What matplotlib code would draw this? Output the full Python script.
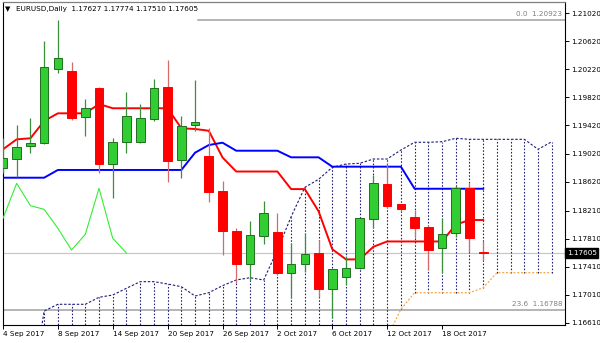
import matplotlib
matplotlib.use("Agg")
import matplotlib.pyplot as plt
import numpy as np

# ---------------- data ----------------
dates = ["4 Sep 2017", "5 Sep 2017", "6 Sep 2017", "7 Sep 2017", "8 Sep 2017",
         "11 Sep 2017", "12 Sep 2017", "13 Sep 2017", "14 Sep 2017", "15 Sep 2017",
         "18 Sep 2017", "19 Sep 2017", "20 Sep 2017", "21 Sep 2017", "22 Sep 2017",
         "25 Sep 2017", "26 Sep 2017", "27 Sep 2017", "28 Sep 2017", "29 Sep 2017",
         "2 Oct 2017", "3 Oct 2017", "4 Oct 2017", "5 Oct 2017", "6 Oct 2017",
         "9 Oct 2017", "10 Oct 2017", "11 Oct 2017", "12 Oct 2017", "13 Oct 2017",
         "16 Oct 2017", "17 Oct 2017", "18 Oct 2017", "19 Oct 2017", "20 Oct 2017",
         "23 Oct 2017"]

opens = [1.18811, 1.18943, 1.19128, 1.19175, 1.20223, 1.20195, 1.19536, 1.19949,
         1.18868, 1.19189, 1.19190, 1.19508, 1.19963, 1.18929, 1.19427, 1.18986,
         1.18488, 1.17923, 1.17445, 1.17852, 1.17909, 1.17326, 1.17445, 1.17602,
         1.17094, 1.17269, 1.17388, 1.18089, 1.18587, 1.18299, 1.18122, 1.17969,
         1.17673, 1.17886, 1.18526, 1.17627]
highs = [1.19242, 1.19427, 1.19522, 1.20626, 1.20923, 1.20327, 1.19797, 1.19963,
         1.19238, 1.19892, 1.19721, 1.20081, 1.20351, 1.19555, 1.20067, 1.19380,
         1.18634, 1.17966, 1.18061, 1.18350, 1.18171, 1.17752, 1.17886, 1.17791,
         1.17380, 1.17563, 1.18115, 1.18715, 1.18872, 1.18310, 1.18218, 1.18010,
         1.18099, 1.18560, 1.18600, 1.17774]
lows = [1.18744, 1.18691, 1.19033, 1.19160, 1.20162, 1.19498, 1.19270, 1.18740,
        1.18384, 1.19024, 1.19166, 1.19484, 1.18620, 1.18668, 1.19341, 1.18336,
        1.17577, 1.17175, 1.17222, 1.17734, 1.17293, 1.16961, 1.17340, 1.16976,
        1.16677, 1.17151, 1.17380, 1.17957, 1.18250, 1.18210, 1.17819, 1.17364,
        1.17317, 1.17840, 1.17616, 1.17510]
closes = [1.18962, 1.19118, 1.19166, 1.20256, 1.20376, 1.19522, 1.19664, 1.18868,
          1.19189, 1.19555, 1.19533, 1.19949, 1.18919, 1.19412, 1.19465, 1.18478,
          1.17923, 1.17445, 1.17862, 1.18171, 1.17326, 1.17449, 1.17587, 1.17089,
          1.17374, 1.17397, 1.18099, 1.18597, 1.18279, 1.18227, 1.17957, 1.17648,
          1.17872, 1.18526, 1.17815, 1.17605]

tenkan = [1.19081, 1.19223, 1.19238, 1.19484, 1.19593, 1.19593, 1.19593, 1.19725,
          1.19665, 1.19665, 1.19665, 1.19665, 1.19665, 1.19380, 1.19370, 1.19345,
          1.18965, 1.18765, 1.18765, 1.18765, 1.18765, 1.18515, 1.18515, 1.18200,
          1.17660, 1.17515, 1.17515, 1.17695, 1.17770, 1.17770, 1.17770, 1.17770,
          1.17770, 1.18010, 1.18075, 1.18075]
kijun = [1.18677, 1.18677, 1.18677, 1.18677, 1.18787, 1.18787, 1.18787, 1.18787,
         1.18787, 1.18787, 1.18787, 1.18787, 1.18787, 1.18787, 1.19033, 1.19142,
         1.19175, 1.19061, 1.19061, 1.19061, 1.19061, 1.18967, 1.18967, 1.18967,
         1.18834, 1.18834, 1.18834, 1.18834, 1.18834, 1.18834, 1.18520, 1.18520,
         1.18520, 1.18520, 1.18520, 1.18520]
chikou = [1.18099, 1.18597, 1.18279, 1.18227, 1.17957, 1.17648, 1.17872, 1.18526,
          1.17815, 1.17605]

nan = float("nan")
senkou_a = [nan, nan, 1.15550, 1.16780, 1.16876, 1.16876, 1.16876, 1.16976,
            1.17008, 1.17104, 1.17198, 1.17198, 1.17165, 1.17126, 1.16994, 1.17041,
            1.17141, 1.17222, 1.17254, 1.17222, 1.17648, 1.18122, 1.18540, 1.18654,
            1.18825, 1.18872, 1.18882, 1.18943, 1.18943, 1.19071, 1.19181, 1.19181,
            1.19189, 1.19238, 1.19223, 1.19223, 1.19223, 1.19223, 1.19223, 1.19081,
            1.19189]
senkou_b = [nan, nan, nan, 1.16400, 1.16400, 1.16400, 1.16400, 1.16400,
            1.16400, 1.16400, 1.16400, 1.16400, 1.16400, 1.16400, 1.16400, 1.16400,
            1.16400, 1.16400, 1.16400, 1.16400, 1.16400, 1.16400, 1.16400, 1.16400,
            1.16400, 1.16400, 1.16400, 1.16400, 1.16400, 1.16805, 1.17041, 1.17041,
            1.17041, 1.17041, 1.17041, 1.17112, 1.17326, 1.17326, 1.17326, 1.17326,
            1.17326]

fib_levels = ["0.0", "23.6"]
fib_prices = [1.20923, 1.16788]
fib_start_date = "22 Sep 2017"

ytick_values = [1.21020, 1.20620, 1.20220, 1.19820, 1.19420, 1.19020, 1.18620,
                1.18210, 1.17810, 1.17410, 1.17010, 1.16610]
xtick_labels = ["4 Sep 2017", "8 Sep 2017", "14 Sep 2017", "20 Sep 2017",
                "26 Sep 2017", "2 Oct 2017", "6 Oct 2017", "12 Oct 2017",
                "18 Oct 2017"]
symbol = "EURUSD,Daily"

# ---------------- figure ----------------
W, H = 600, 343
fig = plt.figure(figsize=(W / 100, H / 100), dpi=100, facecolor="white")
left_px, right_px, top_px, bot_px = 2.7, 565.0, 1.7, 325.0
ax = fig.add_axes([left_px / W, 1 - bot_px / H, (right_px - left_px) / W,
                   (bot_px - top_px) / H])
ax.set_facecolor("white")

x = np.arange(len(closes))
O = np.array(opens); Hh = np.array(highs); Ll = np.array(lows); C = np.array(closes)
up = C >= O

# background lines
for lvl, pr in zip(fib_levels, fib_prices):
    if lvl == "0.0":
        ax.plot([dates.index(fib_start_date) + 0.2, 60], [pr, pr], color="#a0a0a0",
                lw=1.1, zorder=1)
    else:
        ax.axhline(pr, color="#a0a0a0", lw=1.1, zorder=1)
ax.axhline(closes[-1], color="#c8c8c8", lw=0.9, zorder=1)

# cloud hatch
xa = np.arange(len(senkou_a))
A = np.array(senkou_a); B = np.array(senkou_b)
ok = ~np.isnan(A) & ~np.isnan(B)
ax.vlines(xa[ok], B[ok], A[ok], colors="#1c1c78", lw=0.8,
          linestyles=(0, (1.4, 1.6)), zorder=2)
ax.plot(xa, A, color="#1c1c78", lw=0.8, ls=(0, (2.2, 1.6)), zorder=2.5)
ax.plot(xa, B, color="#f8a848", lw=0.9, ls=(0, (1.6, 1.4)), zorder=2.5)

# ichimoku lines
ax.plot(np.arange(len(chikou)), chikou, color="#33ee33", lw=0.8, zorder=3)
ax.plot(x, tenkan, color="#ff0000", lw=1.4, zorder=3)
ax.plot(x, kijun, color="#0000ff", lw=1.4, zorder=3)

# candles
wick_cols = np.where(up, "#3a8f3a", "#d66a6a")
ax.vlines(x, Ll, Hh, colors=wick_cols, lw=0.9, zorder=4)
body_bot = np.minimum(O, C)
body_h = np.maximum(np.abs(C - O), 0.00005)
ax.bar(x, body_h, bottom=body_bot, width=0.63,
       color=np.where(up, "#32cd32", "#ff0000"),
       edgecolor=np.where(up, "#1f6f1f", "#ff0000"), linewidth=0.7, zorder=5)

# axes
ax.set_xlim(-0.02, 40.96)
ax.set_ylim(1.165815, 1.21181)
for s in ["left", "bottom", "right"]:
    ax.spines[s].set_color("black")
    ax.spines[s].set_linewidth(0.8)
ax.spines["top"].set_color("#808080")
ax.spines["top"].set_linewidth(0.9)

ax.set_xticks([dates.index(d) for d in xtick_labels])
ax.set_xticklabels(xtick_labels, ha="left", fontsize=5.2)
ax.tick_params(axis="x", length=3, width=0.7, pad=1.5, direction="out")
ax.yaxis.tick_right()
ax.set_yticks(ytick_values)
ax.set_yticklabels([f"{v:.5f}" for v in ytick_values], fontsize=5.2)
ax.tick_params(axis="y", length=3, width=0.7, pad=1.5, direction="out")

# current price box
ax.text(1.003, closes[-1], f"{closes[-1]:.5f}", transform=ax.get_yaxis_transform(),
        ha="left", va="center", fontsize=5.2, color="white", zorder=10,
        bbox=dict(boxstyle="square,pad=0.25", fc="black", ec="black"), clip_on=False)

# fib labels
for lvl, pr in zip(fib_levels, fib_prices):
    ax.annotate(f"{lvl}  {pr:.5f}", xy=(1.0, pr), xycoords=ax.get_yaxis_transform(),
                xytext=(-2, 4.5), textcoords="offset points", ha="right", va="center",
                fontsize=5.2, color="#808080")

# header
fig.text(5 / W, 1 - 9 / H, "\u25bc", fontsize=5, ha="left", va="center")
fig.text(16 / W, 1 - 9 / H,
         f"{symbol}  {opens[-1]:.5f} {highs[-1]:.5f} {lows[-1]:.5f} {closes[-1]:.5f}",
         fontsize=5.2, ha="left", va="center")

fig.savefig("out.png", dpi=100, facecolor="white")
